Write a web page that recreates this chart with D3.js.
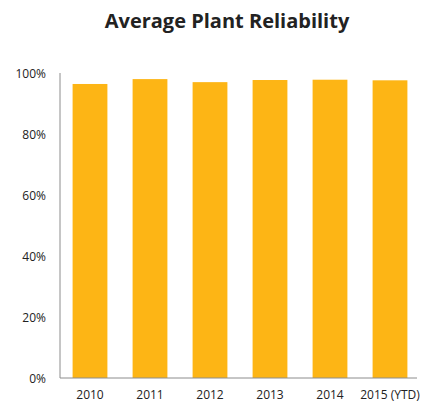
<!DOCTYPE html>
<html lang="en">
<head>
    <meta charset="UTF-8" />
    <title>Average Plant Reliability</title>
    <script src="https://d3js.org/d3.v7.min.js"></script>
    <style>
        body { margin: 0; background: #fff; }
        text { font-family: "Open Sans", Lato, sans-serif; fill: #222; }
        .title { font-weight: 700; font-size: 20px; }
        .axis text { font-size: 12px; }
        .axis path, .axis line { stroke: #8c8c8c; }
    </style>
</head>
<body>
<div id="chart"></div>
<script>
    // Valores
    const years = ["2010", "2011", "2012", "2013", "2014", "2015 (YTD)"];
    const reliability = [0.964, 0.980, 0.970, 0.977, 0.978, 0.976];
    const yTicks = [0, 0.2, 0.4, 0.6, 0.8, 1.0];

    const W = 422, H = 402;
    const m = { top: 73, right: 2, bottom: 24, left: 60 };

    const svg = d3.select("#chart").append("svg")
        .attr("width", W)
        .attr("height", H);

    const x = d3.scaleBand()
        .domain(years)
        .range([m.left, W - m.right])
        .paddingInner(0.42)
        .paddingOuter(0.21);

    const y = d3.scaleLinear()
        .domain([0, 1])
        .range([H - m.bottom, m.top]);

    svg.append("text")
        .attr("class", "title")
        .attr("x", 227)
        .attr("y", 28)
        .attr("text-anchor", "middle")
        .text("Average Plant Reliability");

    svg.append("g")
        .selectAll("rect")
        .data(reliability)
        .enter()
        .append("rect")
        .attr("x", (d, i) => x(years[i]))
        .attr("y", d => y(d))
        .attr("width", x.bandwidth())
        .attr("height", d => y(0) - y(d))
        .attr("fill", "#fdb515");

    // eje Y: solo la línea, etiquetas sin marcas
    const yAxis = svg.append("g")
        .attr("class", "axis")
        .attr("transform", `translate(${m.left},0)`)
        .call(d3.axisLeft(y).tickValues(yTicks).tickFormat(d3.format(".0%")).tickSize(0).tickPadding(14));
    yAxis.select(".domain").attr("d", `M0,${y(1)}V${y(0)}`);
    yAxis.selectAll("text").attr("dy", "0.35em");

    const xAxis = svg.append("g")
        .attr("class", "axis")
        .attr("transform", `translate(0,${y(0)})`)
        .call(d3.axisBottom(x).tickSize(0).tickPadding(12));
    xAxis.select(".domain").attr("d", `M${m.left},0H${W - 5}`);
</script>
</body>
</html>
